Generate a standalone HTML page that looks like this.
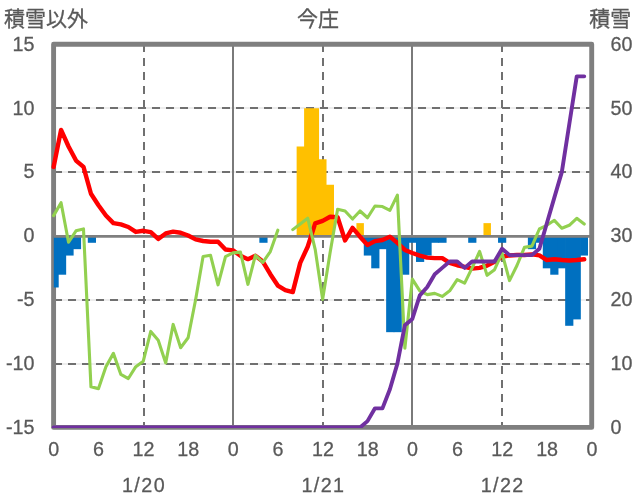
<!DOCTYPE html>
<html lang="ja"><head><meta charset="utf-8"><title>今庄</title>
<style>html,body{margin:0;padding:0;background:#fff}svg{display:block}text{font-family:"Liberation Sans","Noto Sans CJK JP",sans-serif;font-size:21px;fill:#595959;stroke:#595959;stroke-width:0.3px}</style></head><body>
<svg width="636" height="501" viewBox="0 0 636 501">
<rect width="636" height="501" fill="#fff"/>
<defs><clipPath id="pc"><rect x="0" y="0" width="636" height="427.9"/></clipPath></defs>
<g stroke="#c4c4c4" stroke-width="0.6" fill="none">
<line x1="54" y1="108" x2="591.7" y2="108"/>
<line x1="54" y1="172" x2="591.7" y2="172"/>
<line x1="54" y1="300" x2="591.7" y2="300"/>
<line x1="54" y1="364" x2="591.7" y2="364"/>
</g>
<g stroke="#707070" stroke-width="2" stroke-dasharray="8 6" fill="none">
<line x1="54" y1="108" x2="591.7" y2="108"/>
<line x1="54" y1="172" x2="591.7" y2="172"/>
<line x1="54" y1="300" x2="591.7" y2="300"/>
<line x1="54" y1="364" x2="591.7" y2="364"/>
<line x1="144" y1="44" x2="144" y2="427.4"/>
<line x1="323" y1="44" x2="323" y2="427.4"/>
<line x1="502" y1="44" x2="502" y2="427.4"/>
</g>
<g stroke="#7a7a7a" stroke-width="2" fill="none">
<line x1="233" y1="44.3" x2="233" y2="427.4"/>
<line x1="412" y1="44.3" x2="412" y2="427.4"/>
</g>
<rect x="53.6" y="44.3" width="538.10" height="383.10" fill="none" stroke="#7f7f7f" stroke-width="4.9" stroke-linejoin="round"/>
<rect x="53.80" y="235.9" width="4.90" height="51.58" fill="#0070c0"/>
<rect x="57.96" y="235.9" width="8.20" height="38.81" fill="#0070c0"/>
<rect x="65.42" y="235.9" width="8.20" height="19.66" fill="#0070c0"/>
<rect x="72.88" y="235.9" width="8.20" height="13.27" fill="#0070c0"/>
<rect x="87.80" y="235.9" width="8.20" height="6.88" fill="#0070c0"/>
<rect x="259.35" y="235.9" width="8.20" height="6.88" fill="#0070c0"/>
<rect x="363.78" y="235.9" width="8.20" height="19.66" fill="#0070c0"/>
<rect x="371.24" y="235.9" width="8.20" height="32.42" fill="#0070c0"/>
<rect x="378.70" y="235.9" width="8.20" height="13.27" fill="#0070c0"/>
<rect x="386.15" y="235.9" width="8.20" height="96.28" fill="#0070c0"/>
<rect x="393.61" y="235.9" width="8.20" height="96.28" fill="#0070c0"/>
<rect x="401.07" y="235.9" width="8.20" height="38.81" fill="#0070c0"/>
<rect x="408.53" y="235.9" width="8.20" height="6.88" fill="#0070c0"/>
<rect x="415.99" y="235.9" width="8.20" height="26.04" fill="#0070c0"/>
<rect x="423.45" y="235.9" width="8.20" height="19.66" fill="#0070c0"/>
<rect x="430.91" y="235.9" width="8.20" height="6.88" fill="#0070c0"/>
<rect x="438.37" y="235.9" width="8.20" height="6.88" fill="#0070c0"/>
<rect x="468.20" y="235.9" width="8.20" height="6.88" fill="#0070c0"/>
<rect x="498.04" y="235.9" width="8.20" height="6.88" fill="#0070c0"/>
<rect x="527.88" y="235.9" width="8.20" height="13.27" fill="#0070c0"/>
<rect x="535.33" y="235.9" width="8.20" height="6.88" fill="#0070c0"/>
<rect x="542.79" y="235.9" width="8.20" height="32.42" fill="#0070c0"/>
<rect x="550.25" y="235.9" width="8.20" height="38.81" fill="#0070c0"/>
<rect x="557.71" y="235.9" width="8.20" height="32.42" fill="#0070c0"/>
<rect x="565.17" y="235.9" width="8.20" height="89.89" fill="#0070c0"/>
<rect x="572.63" y="235.9" width="8.20" height="83.50" fill="#0070c0"/>
<rect x="580.09" y="235.9" width="7.91" height="19.66" fill="#0070c0"/>
<polygon fill="#ffc000" points="296.63,235.90 296.63,146.51 304.10,146.51 304.10,108.20 311.57,108.20 311.57,108.20 319.05,108.20 319.05,159.28 326.52,159.28 326.52,184.82 333.99,184.82 333.99,235.90"/>
<polygon fill="#ffc000" points="356.42,235.90 356.42,223.13 363.89,223.13 363.89,235.90"/>
<polygon fill="#ffc000" points="483.47,235.90 483.47,223.13 490.94,223.13 490.94,235.90"/>
<line x1="53.6" y1="236.45" x2="591.7" y2="236.45" stroke="#7f7f7f" stroke-width="2.8"/>
<path d="M53.60 166.94 L61.07 129.91 L68.55 146.51 L76.02 160.56 L83.49 166.94 L90.97 193.76 L98.44 205.25 L105.92 215.47 L113.39 223.13 L120.86 224.41 L128.34 226.96 L135.81 231.94 L143.28 230.79 L150.76 232.20 L158.23 238.96 L165.70 233.47 L173.18 231.69 L180.65 232.71 L188.12 235.52 L195.60 239.35 L203.07 241.01 L210.55 241.77 L218.02 241.77 L225.49 249.56 L232.97 250.33 L240.44 255.82 L247.91 259.14 L255.39 255.82 L262.86 261.57 L270.33 274.21 L277.81 285.58 L285.28 290.04 L292.76 292.09 L300.23 262.84 L307.70 246.75 L315.18 223.39 L322.65 220.83 L330.12 216.75 L337.60 217.26 L345.07 240.50 L352.54 227.85 L360.02 236.67 L367.49 244.97 L374.97 241.14 L382.44 239.99 L389.91 236.67 L397.39 242.92 L404.86 249.95 L412.33 253.01 L419.81 255.57 L427.28 257.61 L434.75 258.12 L442.23 258.12 L449.70 262.97 L457.18 265.27 L464.65 266.80 L472.12 268.59 L479.60 267.82 L487.07 265.53 L494.54 261.82 L502.02 256.72 L509.49 255.44 L516.96 255.06 L524.44 255.06 L531.91 254.42 L539.38 255.44 L546.86 260.04 L554.33 259.27 L561.81 260.04 L569.28 260.55 L576.75 260.04 L584.23 259.27" fill="none" stroke="#ff0000" stroke-width="4.4" stroke-linejoin="round" stroke-linecap="round"/>
<path d="M53.60 215.60 L61.07 202.70 L68.55 242.28 L76.02 230.79 L83.49 228.88 L90.97 386.84 L98.44 388.63 L105.92 366.66 L113.39 353.38 L120.86 374.45 L128.34 378.54 L135.81 366.66 L143.28 361.17 L150.76 331.42 L158.23 340.23 L165.70 362.96 L173.18 324.40 L180.65 347.77 L188.12 337.80 L195.60 299.75 L203.07 256.59 L210.55 255.31 L218.02 284.81 L225.49 256.59 L232.97 252.88 L240.44 252.12 L247.91 284.30 L255.39 255.31 L262.86 262.33 L270.33 251.61 L277.81 230.15 M292.76 229.64 L300.23 223.90 L307.70 218.15 L315.18 249.31 L322.65 299.37 L330.12 252.50 L337.60 209.34 L345.07 211.00 L352.54 219.04 L360.02 211.00 L367.49 217.77 L374.97 206.02 L382.44 206.53 L389.91 210.36 L397.39 195.16 L404.86 348.28 L412.33 279.06 L419.81 290.81 L427.28 294.64 L434.75 293.37 L442.23 296.43 L449.70 290.81 L457.18 279.57 L464.65 283.15 L472.12 267.82 L479.60 251.48 L487.07 275.36 L494.54 269.74 L502.02 253.01 L509.49 280.60 L516.96 265.53 L524.44 247.39 L531.91 246.12 L539.38 229.00 L546.86 225.30 L554.33 220.32 L561.81 228.24 L569.28 225.30 L576.75 218.28 L584.23 224.02" fill="none" stroke="#92d050" stroke-width="3.1" stroke-linejoin="round" stroke-linecap="round"/>
<path clip-path="url(#pc)" d="M53.60 427.50 L61.07 427.50 L68.55 427.50 L76.02 427.50 L83.49 427.50 L90.97 427.50 L98.44 427.50 L105.92 427.50 L113.39 427.50 L120.86 427.50 L128.34 427.50 L135.81 427.50 L143.28 427.50 L150.76 427.50 L158.23 427.50 L165.70 427.50 L173.18 427.50 L180.65 427.50 L188.12 427.50 L195.60 427.50 L203.07 427.50 L210.55 427.50 L218.02 427.50 L225.49 427.50 L232.97 427.50 L240.44 427.50 L247.91 427.50 L255.39 427.50 L262.86 427.50 L270.33 427.50 L277.81 427.50 L285.28 427.50 L292.76 427.50 L300.23 427.50 L307.70 427.50 L315.18 427.50 L322.65 427.50 L330.12 427.50 L337.60 427.50 L345.07 427.50 L352.54 427.50 L360.02 427.50 L367.49 421.12 L374.97 408.35 L382.44 408.35 L389.91 389.19 L397.39 363.65 L404.86 325.34 L412.33 318.95 L419.81 295.33 L427.28 287.03 L434.75 274.26 L442.23 267.88 L449.70 261.49 L457.18 261.49 L464.65 267.88 L472.12 261.49 L479.60 261.49 L487.07 261.49 L494.54 261.49 L502.02 248.72 L509.49 255.11 L516.96 255.11 L524.44 255.11 L531.91 255.11 L539.38 248.72 L546.86 223.18 L554.33 197.64 L561.81 172.10 L569.28 124.21 L576.75 76.33 L584.23 76.33" fill="none" stroke="#7030a0" stroke-width="3.9" stroke-linejoin="round" stroke-linecap="round"/>
<g style="filter:grayscale(1)">
<text x="4" y="26.4" font-size="21.5">積雪以外</text>
<text x="318.1" y="26.4" font-size="21.5" text-anchor="middle">今庄</text>
<text x="589.3" y="26.4" font-size="21.5">積雪</text>
<text transform="translate(34.5 50.7) scale(0.94 1)" font-size="22.4" text-anchor="end">15</text>
<text transform="translate(34.5 114.5) scale(0.94 1)" font-size="22.4" text-anchor="end">10</text>
<text transform="translate(34.5 178.4) scale(0.94 1)" font-size="22.4" text-anchor="end">5</text>
<text transform="translate(34.5 242.2) scale(0.94 1)" font-size="22.4" text-anchor="end">0</text>
<text transform="translate(34.5 306.1) scale(0.94 1)" font-size="22.4" text-anchor="end">-5</text>
<text transform="translate(34.5 369.9) scale(0.94 1)" font-size="22.4" text-anchor="end">-10</text>
<text transform="translate(34.5 433.8) scale(0.94 1)" font-size="22.4" text-anchor="end">-15</text>
<text transform="translate(610.5 50.6) scale(0.94 1)" font-size="22.4" text-anchor="start">60</text>
<text transform="translate(610.5 114.5) scale(0.94 1)" font-size="22.4" text-anchor="start">50</text>
<text transform="translate(610.5 178.3) scale(0.94 1)" font-size="22.4" text-anchor="start">40</text>
<text transform="translate(610.5 242.2) scale(0.94 1)" font-size="22.4" text-anchor="start">30</text>
<text transform="translate(610.5 306.0) scale(0.94 1)" font-size="22.4" text-anchor="start">20</text>
<text transform="translate(610.5 369.8) scale(0.94 1)" font-size="22.4" text-anchor="start">10</text>
<text transform="translate(610.5 433.7) scale(0.94 1)" font-size="22.4" text-anchor="start">0</text>
<text transform="translate(53.8 455.6) scale(0.94 1)" font-size="22.4" text-anchor="middle">0</text>
<text transform="translate(98.6 455.6) scale(0.94 1)" font-size="22.4" text-anchor="middle">6</text>
<text transform="translate(143.5 455.6) scale(0.94 1)" font-size="22.4" text-anchor="middle">12</text>
<text transform="translate(188.3 455.6) scale(0.94 1)" font-size="22.4" text-anchor="middle">18</text>
<text transform="translate(233.2 455.6) scale(0.94 1)" font-size="22.4" text-anchor="middle">0</text>
<text transform="translate(278.0 455.6) scale(0.94 1)" font-size="22.4" text-anchor="middle">6</text>
<text transform="translate(322.9 455.6) scale(0.94 1)" font-size="22.4" text-anchor="middle">12</text>
<text transform="translate(367.7 455.6) scale(0.94 1)" font-size="22.4" text-anchor="middle">18</text>
<text transform="translate(412.5 455.6) scale(0.94 1)" font-size="22.4" text-anchor="middle">0</text>
<text transform="translate(457.4 455.6) scale(0.94 1)" font-size="22.4" text-anchor="middle">6</text>
<text transform="translate(502.2 455.6) scale(0.94 1)" font-size="22.4" text-anchor="middle">12</text>
<text transform="translate(547.1 455.6) scale(0.94 1)" font-size="22.4" text-anchor="middle">18</text>
<text transform="translate(591.9 455.6) scale(0.94 1)" font-size="22.4" text-anchor="middle">0</text>
<text transform="translate(144.0 492.4) scale(0.94 1)" font-size="22.4" text-anchor="middle" letter-spacing="1.5">1/20</text>
<text transform="translate(323.4 492.4) scale(0.94 1)" font-size="22.4" text-anchor="middle" letter-spacing="1.5">1/21</text>
<text transform="translate(502.7 492.4) scale(0.94 1)" font-size="22.4" text-anchor="middle" letter-spacing="1.5">1/22</text>
</g>
</svg></body></html>
